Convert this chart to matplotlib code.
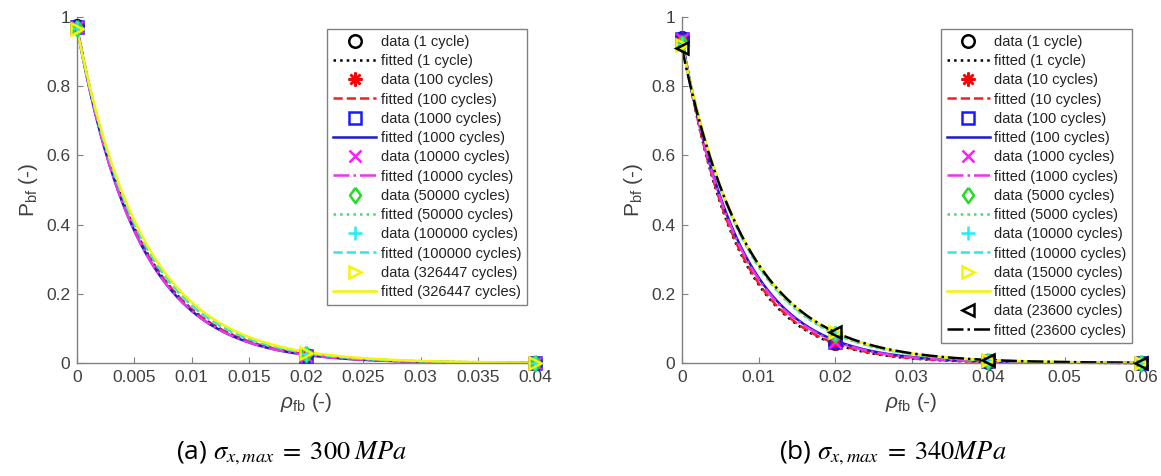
import numpy as np
import matplotlib
matplotlib.use("Agg")
import matplotlib.pyplot as plt

plt.rcParams['font.family'] = ['Liberation Sans', 'DejaVu Sans']
plt.rcParams['mathtext.fontset'] = 'custom'
plt.rcParams['mathtext.rm'] = 'Liberation Sans'
plt.rcParams['mathtext.it'] = 'Liberation Sans:italic'

# panel (a): sigma_x,max = 300 MPa
rho_a = [0.0, 0.02, 0.04]
cycles_a = ['1 cycle', '100 cycles', '1000 cycles', '10000 cycles',
            '50000 cycles', '100000 cycles', '326447 cycles']
pbf_a = [
    [0.975, 0.022, 0.0005],
    [0.972, 0.022, 0.0005],
    [0.970, 0.021, 0.0005],
    [0.970, 0.021, 0.0005],
    [0.968, 0.026, 0.0008],
    [0.968, 0.027, 0.0008],
    [0.965, 0.030, 0.0010],
]
# fitted P = A * exp(-B * rho)
fit_A_a = [0.975, 0.972, 0.970, 0.970, 0.968, 0.968, 0.965]
fit_B_a = [183, 183, 186, 186, 176, 175, 170]

# panel (b): sigma_x,max = 340 MPa
rho_b = [0.0, 0.02, 0.04, 0.06]
cycles_b = ['1 cycle', '10 cycles', '100 cycles', '1000 cycles',
            '5000 cycles', '10000 cycles', '15000 cycles', '23600 cycles']
pbf_b = [
    [0.940, 0.057, 0.004, 0.0003],
    [0.938, 0.058, 0.004, 0.0003],
    [0.935, 0.062, 0.005, 0.0004],
    [0.935, 0.060, 0.005, 0.0004],
    [0.925, 0.085, 0.007, 0.0006],
    [0.922, 0.086, 0.007, 0.0006],
    [0.918, 0.089, 0.008, 0.0007],
    [0.910, 0.090, 0.008, 0.0007],
]
fit_A_b = [0.940, 0.938, 0.935, 0.935, 0.925, 0.922, 0.918, 0.910]
fit_B_b = [142, 140, 133, 135, 120, 119, 117, 116]

diamond = [(0, 1), (0.72, 0), (0, -1), (-0.72, 0), (0, 1)]
markers = ['o', (8, 2, 0), 's', 'x', diamond, '+', '>', '<']
msizes = [9, 10, 8, 9, 11, 10, 9, 9]
colors = ['black', 'red', '#1a1aff', '#ff1aff', '#22dd22', '#22eeee', '#f5f500', 'black']
line_colors = ['black', '#ee2222', '#1a1acc', '#ee33ee', '#44dd66', '#33e5e5', '#f5f500', 'black']
linestyles = [':', '--', '-', '-.', ':', '--', '-', '-.']

AXGRAY = '#808080'
TXTGRAY = '#404040'

fig = plt.figure(figsize=(11.61, 4.76), dpi=100)
ax_a = fig.add_axes([77 / 1161, 1 - 363 / 476, 458 / 1161, 346 / 476])
ax_b = fig.add_axes([682 / 1161, 1 - 363 / 476, 459 / 1161, 346 / 476])


def draw_panel(ax, rho, cycles, pbf, fit_A, fit_B, xmax, xstep, xlabels):
    xs = np.linspace(0, rho[-1], 300)
    handles = []
    for i, c in enumerate(cycles):
        h1, = ax.plot(rho, pbf[i], linestyle='none', marker=markers[i], ms=msizes[i],
                      mfc='none', mec=colors[i], mew=1.8, clip_on=False, zorder=3,
                      label='data (%s)' % c)
        h2, = ax.plot(xs, fit_A[i] * np.exp(-fit_B[i] * xs), linestyle=linestyles[i],
                      color=line_colors[i], lw=1.8, clip_on=False, zorder=2,
                      label='fitted (%s)' % c)
        handles += [h1, h2]
    ax.set_xlim(0, xmax)
    ax.set_ylim(0, 1)
    ax.set_xticks(np.arange(0, xmax + xstep / 2, xstep))
    ax.set_xticklabels(xlabels)
    ax.set_yticks([0, 0.2, 0.4, 0.6, 0.8, 1])
    ax.set_yticklabels(['0', '0.2', '0.4', '0.6', '0.8', '1'])
    for s in ['top', 'right']:
        ax.spines[s].set_visible(False)
    for s in ['left', 'bottom']:
        ax.spines[s].set_color(AXGRAY)
        ax.spines[s].set_linewidth(1.0)
    ax.tick_params(direction='in', length=4, color=AXGRAY, labelcolor=TXTGRAY,
                   labelsize=12.5, pad=5)
    ax.set_xlabel(r'$\rho_{\mathregular{fb}}$ (-)', fontsize=15, color=TXTGRAY, labelpad=4)
    ax.set_ylabel(r'P$_{\mathregular{bf}}$ (-)', fontsize=15, color=TXTGRAY, labelpad=4)
    return handles


h_a = draw_panel(ax_a, rho_a, cycles_a, pbf_a, fit_A_a, fit_B_a, 0.04, 0.005,
                 ['0', '0.005', '0.01', '0.015', '0.02', '0.025', '0.03', '0.035', '0.04'])
h_b = draw_panel(ax_b, rho_b, cycles_b, pbf_b, fit_A_b, fit_B_b, 0.06, 0.01,
                 ['0', '0.01', '0.02', '0.03', '0.04', '0.05', '0.06'])

for ax, h, x_right in [(ax_a, h_a, 527), (ax_b, h_b, 1132)]:
    leg = fig.legend(handles=h, loc='upper right',
                     bbox_to_anchor=(x_right / 1161, 1 - 29 / 476),
                     fontsize=10.5, handlelength=2.95, handletextpad=0.3,
                     labelspacing=0.36, borderpad=0.4, borderaxespad=0,
                     fancybox=False, framealpha=1, edgecolor=AXGRAY)
    leg.get_frame().set_linewidth(1.0)
    for t in leg.get_texts():
        t.set_color('#222222')

cap_font = ['Open Sans', 'DejaVu Sans']
fig.text(292 / 1161, 1 - 453 / 476,
         r'(a) $\sigma_{x,max}\;=\;300\;MPa$', ha='center', va='center',
         fontsize=19, family=cap_font, math_fontfamily='stix')
fig.text(893 / 1161, 1 - 453 / 476,
         r'(b) $\sigma_{x,max}\;=\;340MPa$', ha='center', va='center',
         fontsize=19, family=cap_font, math_fontfamily='stix')

fig.savefig('out.png', dpi=100)
